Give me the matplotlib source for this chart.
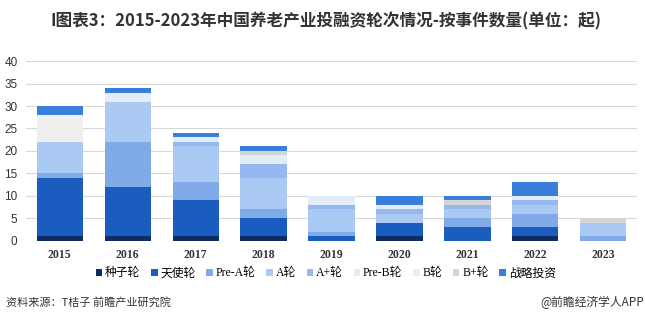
import matplotlib
matplotlib.use("Agg")
import matplotlib.pyplot as plt
import numpy as np

plt.rcParams['font.family'] = ['Noto Sans CJK SC', 'DejaVu Sans']

years = ['2015', '2016', '2017', '2018', '2019', '2020', '2021', '2022', '2023']
rounds = ['种子轮', '天使轮', 'Pre-A轮', 'A轮', 'A+轮', 'Pre-B轮', 'B轮', 'B+轮', '战略投资']

seed      = [1, 1, 1, 1, 0, 1, 0, 1, 0]
angel     = [13, 11, 8, 4, 1, 3, 3, 2, 0]
pre_a     = [1, 10, 4, 2, 1, 0, 2, 3, 1]
round_a   = [7, 9, 8, 7, 5, 2, 2, 2, 3]
a_plus    = [0, 0, 1, 3, 1, 1, 1, 1, 0]
pre_b     = [0, 2, 1, 2, 2, 1, 0, 1, 0]
round_b   = [6, 0, 0, 0, 0, 0, 0, 0, 0]
b_plus    = [0, 0, 0, 1, 0, 0, 1, 0, 1]
strategic = [2, 1, 1, 1, 0, 2, 1, 3, 0]

series = [seed, angel, pre_a, round_a, a_plus, pre_b, round_b, b_plus, strategic]
colors = ['#0f2d63', '#1b5dbf', '#80aae8', '#abcaf3', '#93b9ee',
          '#e4ecf8', '#efefef', '#d5d5d5', '#3a7edb']

fig = plt.figure(figsize=(6.45, 3.3), dpi=100)
ax = fig.add_axes([0.040, 0.27, 0.948, 0.545])

x = np.arange(len(years))
bottom = np.zeros(len(years))
for name, vals, c in zip(rounds, series, colors):
    ax.bar(x, vals, width=0.68, bottom=bottom, color=c, label=name, zorder=3)
    bottom += np.array(vals)

ax.set_ylim(0, 40)
ax.set_xlim(-0.5, len(years) - 0.5)
ax.set_yticks(range(0, 41, 5))
ax.yaxis.grid(True, color='#d9d9d9', linewidth=0.8, zorder=0)
ax.tick_params(axis='both', length=0, colors='#333333')
ax.tick_params(axis='y', labelsize=8.5, pad=6)
ax.tick_params(axis='x', pad=6)
for s in ax.spines.values():
    s.set_visible(False)
ax.set_xticks(x)
ax.set_xticklabels(years, family='Liberation Serif', fontweight='bold', fontsize=8.5)
for lab in ax.get_yticklabels():
    lab.set_family(['Liberation Sans'])

leg = fig.legend(loc='center', bbox_to_anchor=(0.505, 0.172), ncol=9, frameon=False,
                 handlelength=0.55, handleheight=0.55, handletextpad=0.25, columnspacing=0.9,
                 prop={'family': ['Liberation Serif', 'Noto Sans CJK SC'], 'size': 8.5})

fig.text(0.505, 0.935, 'I图表3：2015-2023年中国养老产业投融资轮次情况-按事件数量(单位：起)',
         ha='center', va='center', fontsize=12, fontweight='bold', color='#333333')
fig.text(0.01, 0.085, '资料来源：T桔子 前瞻产业研究院', ha='left', va='center',
         fontsize=8, color='#333333')
fig.text(0.998, 0.085, '@前瞻经济学人APP', ha='right', va='center',
         fontsize=8.5, color='#333333')

fig.savefig('out.png', dpi=100, facecolor='white')
